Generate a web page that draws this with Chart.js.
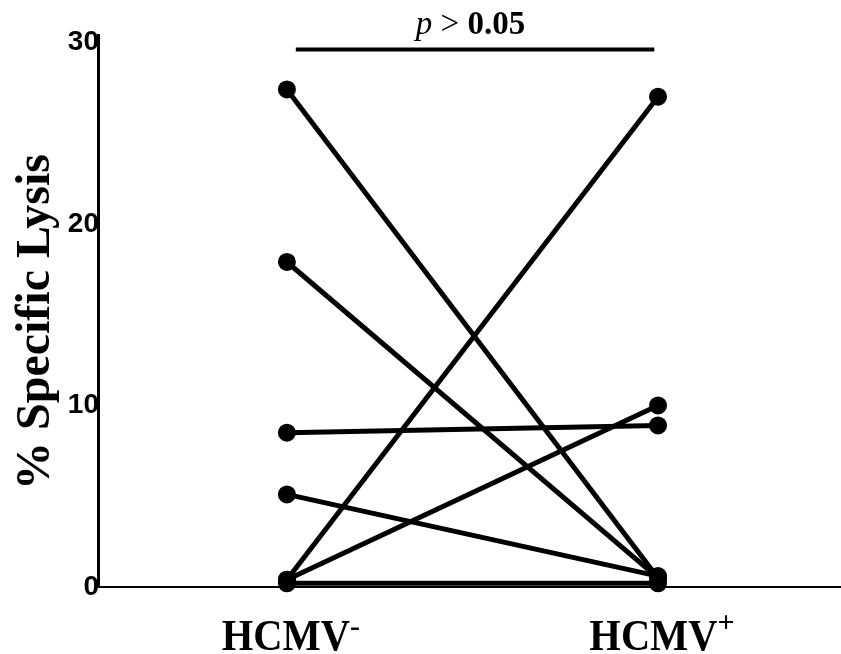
<!DOCTYPE html>
<html>
<head>
<meta charset="utf-8">
<script src="https://cdn.jsdelivr.net/npm/chart.js@4.4.1/dist/chart.umd.min.js"></script>
<style>
    body { margin: 0; background: #fff; }
    canvas { display: block; }
</style>
</head>
<body>
<canvas id="lysisChart" width="841" height="654"></canvas>
<script>
// Paired donors: % specific lysis against HCMV- and HCMV+ targets
const groups = ['HCMV-', 'HCMV+'];
const hcmvNegative = [27.4, 17.9, 8.5, 5.1, 0.4, 0.4, 0.2];
const hcmvPositive = [0.5, 0.5, 8.9, 0.6, 27.0, 10.0, 0.2];
const yTicks = [0, 10, 20, 30];
const yTitle = '% Specific Lysis';
const pValueText = ['p', ' > ', '0.05'];

const serif = "'Liberation Serif', 'Times New Roman', serif";

// one line per donor, from the HCMV- column (x=0) to the HCMV+ column (x=1)
const datasets = hcmvNegative.map((v, i) => ({
    data: [{ x: 0, y: v }, { x: 1, y: hcmvPositive[i] }],
    showLine: true,
    borderColor: '#000',
    backgroundColor: '#000',
    borderWidth: 5,
    pointRadius: 6.5,
    pointHoverRadius: 6.5,
    clip: false
}));

// Text that Chart.js can't do by itself: rotated title, superscript labels, p-value bar
const annotations = {
    id: 'annotations',
    afterDraw(chart) {
        const ctx = chart.ctx;
        const x = chart.scales.x;
        const y = chart.scales.y;
        ctx.save();
        ctx.fillStyle = '#000';

        // y axis title
        ctx.save();
        ctx.translate(49, (chart.chartArea.top + chart.chartArea.bottom) / 2 + 11);
        ctx.rotate(-Math.PI / 2);
        ctx.font = 'bold 48px ' + serif;
        ctx.textAlign = 'center';
        ctx.textBaseline = 'alphabetic';
        ctx.fillText(yTitle, 0, 0);
        ctx.restore();

        // group labels with superscript sign
        groups.forEach((g, i) => {
            const base = g.slice(0, -1);
            const sup = g.slice(-1);
            ctx.font = 'bold 45px ' + serif;
            const wBase = ctx.measureText(base).width * 0.9;
            ctx.font = 'bold 30px ' + serif;
            const wSup = ctx.measureText(sup).width;
            const cx = x.getPixelForValue(i) + 4;
            const left = cx - (wBase + wSup) / 2;
            ctx.save();
            ctx.translate(left, 650);
            ctx.scale(0.9, 1);
            ctx.font = 'bold 45px ' + serif;
            ctx.textAlign = 'left';
            ctx.textBaseline = 'alphabetic';
            ctx.fillText(base, 0, 0);
            ctx.restore();
            ctx.font = 'bold 30px ' + serif;
            ctx.textAlign = 'left';
            ctx.fillText(sup, left + wBase, sup === '-' ? 636 : 632);
        });

        // significance bar
        const barY = y.getPixelForValue(29.6);
        ctx.lineWidth = 4;
        ctx.strokeStyle = '#000';
        ctx.beginPath();
        ctx.moveTo(x.getPixelForValue(0.024), barY);
        ctx.lineTo(x.getPixelForValue(0.99), barY);
        ctx.stroke();

        const fonts = ['italic 33px ' + serif, '33px ' + serif, 'bold 33px ' + serif];
        const widths = pValueText.map((t, i) => { ctx.font = fonts[i]; return ctx.measureText(t).width; });
        const total = widths.reduce((a, b) => a + b, 0);
        let tx = x.getPixelForValue(0.5) - total / 2 - 2;
        ctx.textAlign = 'left';
        ctx.textBaseline = 'alphabetic';
        pValueText.forEach((t, i) => {
            ctx.font = fonts[i];
            ctx.fillText(t, tx, 34);
            tx += widths[i];
        });
        ctx.restore();
    }
};

new Chart(document.getElementById('lysisChart'), {
    type: 'scatter',
    data: { datasets: datasets },
    options: {
        responsive: false,
        animation: false,
        events: [],
        layout: { autoPadding: false, padding: { top: 35, right: 0, left: 0, bottom: 0 } },
        plugins: {
            legend: { display: false },
            tooltip: { enabled: false }
        },
        scales: {
            x: {
                type: 'linear',
                min: -0.509,
                max: 1.493,
                grid: { display: false, drawTicks: false },
                border: { display: true, color: '#000', width: 2 },
                ticks: { display: false },
                afterFit: (scale) => { scale.height = 67; }
            },
            y: {
                min: 0,
                max: 30.4,
                grid: { display: false, drawTicks: false },
                border: { display: true, color: '#000', width: 3 },
                afterBuildTicks: (scale) => { scale.ticks = yTicks.map(v => ({ value: v })); },
                afterFit: (scale) => { scale.width = 98; },
                ticks: {
                    padding: -1,
                    color: '#000',
                    font: { family: "'Liberation Sans', Arial, sans-serif", size: 28, weight: 'bold' }
                }
            }
        }
    },
    plugins: [annotations]
});
</script>
</body>
</html>
